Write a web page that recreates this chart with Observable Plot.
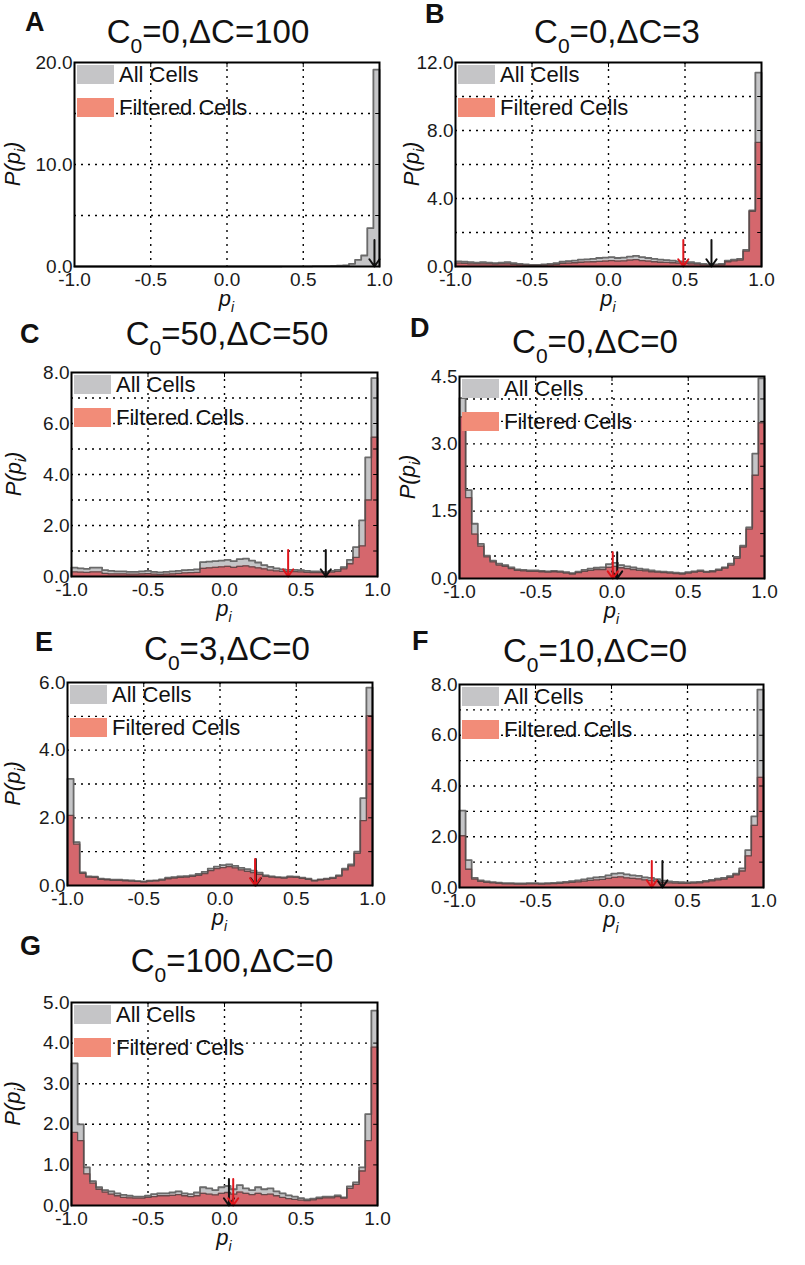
<!DOCTYPE html>
<html>
<head>
<meta charset="utf-8">
<script src="https://cdn.jsdelivr.net/npm/d3@7"></script>
<script src="https://cdn.jsdelivr.net/npm/@observablehq/plot@0.6"></script>
<style>
  html, body { margin: 0; padding: 0; background: #fff; }
  #root { position: relative; width: 805px; height: 1265px; overflow: hidden; background: #fff; }
  .panel { position: absolute; }
  #overlay { position: absolute; left: 0; top: 0; pointer-events: none; }
</style>
</head>
<body>
<div id="root"></div>
<script>
// ---------------- DATA ----------------
const BIN_LEFT = [-1.00,-0.96,-0.92,-0.88,-0.84,-0.80,-0.76,-0.72,-0.68,-0.64,
                  -0.60,-0.56,-0.52,-0.48,-0.44,-0.40,-0.36,-0.32,-0.28,-0.24,
                  -0.20,-0.16,-0.12,-0.08,-0.04, 0.00, 0.04, 0.08, 0.12, 0.16,
                   0.20, 0.24, 0.28, 0.32, 0.36, 0.40, 0.44, 0.48, 0.52, 0.56,
                   0.60, 0.64, 0.68, 0.72, 0.76, 0.80, 0.84, 0.88, 0.92, 0.96];
const X_TICKS = [-1, -0.5, 0, 0.5, 1];
const X_GRID = [-0.5, 0, 0.5];

const panelLetters = ["A", "B", "C", "D", "E", "F", "G"];
const panelC0 = ["0", "0", "50", "0", "3", "10", "100"];
const panelDC = ["100", "3", "50", "0", "0", "0", "0"];

// Panel A: C0=0, ΔC=100
const allA = [0,0,0,0,0,0,0,0,0,0, 0,0,0,0,0,0,0,0,0,0,
              0,0,0,0,0,0,0,0,0,0, 0,0,0,0,0.01,0.01,0.01,0.02,0.02,0.03,
              0.03,0.04,0.06,0.08,0.12,0.26,0.65,1.08,3.76,19.3];
const filtA = [];
const yTicksA = [0, 10, 20];
const yGridA = [5, 10, 15];

// Panel B: C0=0, ΔC=3
const allB = [0.30,0.28,0.25,0.22,0.25,0.22,0.20,0.22,0.25,0.20,
              0.15,0.12,0.10,0.10,0.12,0.15,0.20,0.28,0.32,0.35,
              0.40,0.42,0.45,0.50,0.52,0.55,0.50,0.52,0.58,0.62,
              0.55,0.50,0.45,0.40,0.38,0.35,0.30,0.28,0.25,0.20,
              0.15,0.12,0.12,0.15,0.35,0.40,0.45,0.98,3.30,11.4];
const filtB = [0.20,0.18,0.16,0.15,0.16,0.15,0.14,0.15,0.16,0.13,
               0.10,0.08,0.07,0.07,0.08,0.10,0.13,0.18,0.20,0.22,
               0.25,0.27,0.28,0.30,0.32,0.35,0.32,0.33,0.38,0.40,
               0.35,0.32,0.28,0.25,0.24,0.22,0.20,0.18,0.16,0.14,
               0.10,0.08,0.08,0.10,0.28,0.33,0.38,0.90,3.25,7.30];
const yTicksB = [0, 4, 8, 12];
const yGridB = [2, 4, 6, 8, 10];

// Panel C: C0=50, ΔC=50
const allC = [0.35,0.32,0.30,0.35,0.35,0.25,0.22,0.20,0.20,0.18,
              0.18,0.20,0.22,0.18,0.16,0.18,0.20,0.22,0.25,0.26,
              0.28,0.56,0.58,0.60,0.62,0.65,0.60,0.68,0.70,0.62,
              0.55,0.45,0.38,0.32,0.28,0.26,0.26,0.25,0.22,0.20,
              0.20,0.18,0.22,0.26,0.37,0.65,1.15,2.20,4.67,7.78];
const filtC = [0.18,0.17,0.16,0.18,0.18,0.12,0.10,0.10,0.10,0.09,
               0.09,0.10,0.11,0.09,0.08,0.09,0.10,0.12,0.14,0.15,
               0.16,0.32,0.34,0.36,0.38,0.40,0.36,0.40,0.42,0.38,
               0.34,0.30,0.25,0.22,0.20,0.19,0.19,0.18,0.16,0.15,
               0.15,0.14,0.17,0.20,0.30,0.50,0.75,1.20,3.00,5.46];
const yTicksC = [0, 2, 4, 6, 8];
const yGridC = [1, 2, 3, 4, 5, 6, 7];

// Panel D: C0=0, ΔC=0
const allD = [4.02,1.97,1.22,0.77,0.51,0.40,0.33,0.30,0.25,0.20,
              0.19,0.18,0.18,0.17,0.16,0.17,0.16,0.14,0.12,0.15,
              0.19,0.22,0.24,0.25,0.32,0.35,0.30,0.27,0.25,0.22,
              0.20,0.18,0.16,0.15,0.14,0.13,0.12,0.14,0.16,0.18,
              0.15,0.17,0.20,0.25,0.33,0.48,0.73,1.14,2.78,4.46];
const filtD = [3.60,1.80,0.99,0.72,0.48,0.37,0.30,0.27,0.22,0.18,
               0.17,0.16,0.16,0.15,0.14,0.15,0.14,0.12,0.10,0.13,
               0.16,0.18,0.20,0.20,0.25,0.27,0.24,0.22,0.20,0.18,
               0.17,0.15,0.14,0.13,0.12,0.11,0.10,0.12,0.14,0.16,
               0.14,0.15,0.18,0.23,0.30,0.45,0.70,1.10,2.30,3.47];
const yTicksD = [0, 1.5, 3, 4.5];
const yGridD = [0.5, 1, 1.5, 2, 2.5, 3, 3.5, 4];

// Panel E: C0=3, ΔC=0
const allE = [3.15,1.28,0.39,0.27,0.26,0.20,0.19,0.17,0.17,0.16,
              0.15,0.13,0.12,0.14,0.15,0.18,0.23,0.25,0.27,0.28,
              0.30,0.34,0.40,0.50,0.56,0.60,0.62,0.58,0.52,0.48,
              0.44,0.38,0.30,0.27,0.25,0.24,0.27,0.26,0.23,0.20,
              0.15,0.18,0.20,0.23,0.30,0.50,0.62,1.00,2.58,5.85];
const filtE = [2.07,1.22,0.36,0.25,0.24,0.18,0.17,0.15,0.15,0.14,
               0.13,0.12,0.11,0.13,0.14,0.16,0.20,0.22,0.24,0.25,
               0.27,0.30,0.35,0.44,0.50,0.53,0.56,0.52,0.46,0.42,
               0.38,0.33,0.27,0.25,0.23,0.22,0.25,0.24,0.21,0.18,
               0.14,0.17,0.19,0.21,0.28,0.46,0.58,0.95,1.92,5.02];
const yTicksE = [0, 2, 4, 6];
const yGridE = [1, 2, 3, 4, 5];

// Panel F: C0=10, ΔC=0
const allF = [3.03,1.08,0.38,0.28,0.24,0.21,0.19,0.17,0.17,0.16,
              0.16,0.17,0.17,0.16,0.17,0.18,0.20,0.22,0.25,0.28,
              0.32,0.36,0.40,0.42,0.48,0.55,0.57,0.52,0.48,0.46,
              0.40,0.38,0.33,0.27,0.24,0.22,0.21,0.20,0.21,0.22,
              0.26,0.30,0.35,0.38,0.45,0.55,0.75,1.47,2.80,7.80];
const filtF = [2.04,0.72,0.33,0.24,0.20,0.18,0.16,0.14,0.14,0.13,
               0.13,0.14,0.14,0.13,0.14,0.15,0.16,0.18,0.20,0.22,
               0.25,0.28,0.30,0.32,0.36,0.40,0.42,0.38,0.36,0.34,
               0.30,0.28,0.24,0.20,0.18,0.17,0.16,0.16,0.17,0.18,
               0.22,0.26,0.30,0.33,0.40,0.50,0.65,1.25,2.45,4.34];
const yTicksF = [0, 2, 4, 6, 8];
const yGridF = [1, 2, 3, 4, 5, 6, 7];

// Panel G: C0=100, ΔC=0
const allG = [3.50,2.00,0.94,0.60,0.45,0.38,0.35,0.30,0.26,0.24,
              0.22,0.22,0.24,0.28,0.30,0.30,0.32,0.35,0.30,0.28,
              0.32,0.45,0.42,0.38,0.45,0.48,0.40,0.50,0.42,0.38,
              0.45,0.40,0.42,0.35,0.30,0.25,0.22,0.18,0.15,0.17,
              0.20,0.22,0.22,0.25,0.20,0.47,0.57,0.94,2.25,4.80];
const filtG = [1.80,1.60,0.78,0.55,0.40,0.33,0.28,0.24,0.20,0.19,
               0.18,0.18,0.20,0.22,0.24,0.24,0.25,0.27,0.24,0.22,
               0.24,0.30,0.28,0.26,0.30,0.32,0.28,0.33,0.30,0.27,
               0.30,0.27,0.28,0.24,0.20,0.17,0.15,0.13,0.12,0.14,
               0.17,0.19,0.19,0.22,0.18,0.42,0.52,0.85,1.60,3.90];
const yTicksG = [0, 1, 2, 3, 4, 5];
const yGridG = [1, 2, 3, 4];

// mean markers (arrows): all cells (black), filtered cells (red)
const meanAll  = [0.967, 0.673, 0.662, 0.034, 0.235, 0.335, 0.029];
const meanFilt = [null,  0.489, 0.416, 0.005, 0.230, 0.265, 0.057];

// ---------------- LAYOUT ----------------
const FONT = '"Liberation Sans", Arial, Helvetica, sans-serif';
const ML = 70, MR = 14, MT = 12, MB = 30;
// frame left, top, width, height for each panel
const frames = [
  [74, 62, 305, 204], [455, 62, 306, 204],
  [71, 372, 306, 204], [459, 376, 305, 202],
  [67, 682, 305, 203], [459, 684, 304, 203],
  [71, 1002, 306, 203]
];
const letterPos = [[25, 31], [425, 23], [20, 343], [410, 337], [35, 651], [412, 650], [20, 955]];
const titlePos = [[208, 43], [617, 43], [227, 345], [595, 353], [227, 660], [595, 662], [232, 972]];
const yLabelOffset = [62, 44, 58, 52, 55, null, 59];

const panels = [
  {all: allA, filt: filtA, yTicks: yTicksA, yGrid: yGridA},
  {all: allB, filt: filtB, yTicks: yTicksB, yGrid: yGridB},
  {all: allC, filt: filtC, yTicks: yTicksC, yGrid: yGridC},
  {all: allD, filt: filtD, yTicks: yTicksD, yGrid: yGridD},
  {all: allE, filt: filtE, yTicks: yTicksE, yGrid: yGridE},
  {all: allF, filt: filtF, yTicks: yTicksF, yGrid: yGridF},
  {all: allG, filt: filtG, yTicks: yTicksG, yGrid: yGridG}
];

const GRAY_FILL = "#c5c5c7";
const RED_FILL = "#d5676d";
const SALMON = "#f28c78";

// histogram step outline: left edge, each bin's left edge, right edge
function stepsOf(vals) {
  const pts = [{x: -1, v: 0}];
  vals.forEach((v, i) => pts.push({x: BIN_LEFT[i], v}));
  pts.push({x: 1, v: vals[vals.length - 1]});
  pts.push({x: 1, v: 0});
  return pts;
}

const root = document.getElementById("root");

panels.forEach((p, k) => {
  const [fl, ft, fw, fh] = frames[k];
  const ymax = p.yTicks[p.yTicks.length - 1];
  const dots = {stroke: "#000", strokeWidth: 1.4, strokeDasharray: "2,5"};
  const marks = [
    Plot.ruleY(p.yGrid, dots),
    Plot.ruleX(X_GRID, dots),
    Plot.areaY(stepsOf(p.all), {x: "x", y: "v", curve: "step-after", fill: GRAY_FILL})
  ];
  if (p.filt.length) {
    marks.push(Plot.areaY(stepsOf(p.filt), {x: "x", y: "v", curve: "step-after", fill: RED_FILL}));
  }
  marks.push(Plot.lineY(stepsOf(p.all), {x: "x", y: "v", curve: "step-after", stroke: "#6a6a6a", strokeWidth: 1.8}));
  if (p.filt.length) {
    marks.push(Plot.lineY(stepsOf(p.filt), {x: "x", y: "v", curve: "step-after", stroke: "#5a4646", strokeWidth: 1.3, strokeOpacity: 0.9}));
  }
  // small inward ticks on right and top edges
  marks.push(Plot.ruleY(p.yGrid, {x1: 0.975, x2: 1, stroke: "#000", strokeWidth: 1}));
  marks.push(Plot.ruleX(X_GRID, {y1: ymax * 0.975, y2: ymax, stroke: "#000", strokeWidth: 1}));
  // mean arrows
  const arrowOpts = {x1: "x", x2: "x", y1: () => ymax * 0.13, y2: () => 0, strokeWidth: 2, headLength: 9, headAngle: 70};
  marks.push(Plot.arrow([{x: meanAll[k]}], {...arrowOpts, stroke: "#111"}));
  if (meanFilt[k] !== null) marks.push(Plot.arrow([{x: meanFilt[k]}], {...arrowOpts, stroke: "#e0151b"}));
  marks.push(Plot.frame({stroke: "#000", strokeWidth: 2}));

  const chart = Plot.plot({
    width: ML + fw + MR,
    height: MT + fh + MB,
    marginLeft: ML, marginRight: MR, marginTop: MT, marginBottom: MB,
    style: {fontFamily: FONT, fontSize: "19px", color: "#1a1a1a", background: "transparent", overflow: "visible"},
    x: {domain: [-1, 1], ticks: X_TICKS, tickFormat: d => d.toFixed(1), tickSize: 0, tickPadding: 6, label: null},
    y: {domain: [0, ymax], ticks: p.yTicks, tickFormat: d => d.toFixed(1), tickSize: 0, tickPadding: 2, label: null},
    marks
  });
  const wrap = document.createElement("div");
  wrap.className = "panel";
  wrap.style.left = (fl - ML) + "px";
  wrap.style.top = (ft - MT) + "px";
  wrap.appendChild(chart);
  root.appendChild(wrap);
});

// ---------------- TEXT OVERLAY ----------------
const svg = d3.select(root).append("svg")
  .attr("id", "overlay").attr("width", 805).attr("height", 1265)
  .style("font-family", FONT).style("fill", "#111");

panels.forEach((p, k) => {
  const [fl, ft, fw, fh] = frames[k];
  // panel letter
  svg.append("text").attr("x", letterPos[k][0]).attr("y", letterPos[k][1])
    .attr("font-size", 27).attr("font-weight", "bold").text(panelLetters[k]);
  // title C0=..,ΔC=..
  const t = svg.append("text").attr("x", titlePos[k][0]).attr("y", titlePos[k][1])
    .attr("font-size", 33).attr("text-anchor", "middle");
  t.append("tspan").text("C");
  t.append("tspan").attr("dy", 10).attr("font-size", 21).text("0");
  t.append("tspan").attr("dy", -10).text("=" + panelC0[k] + ",ΔC=" + panelDC[k]);
  // legend
  svg.append("rect").attr("x", fl + 3).attr("y", ft + 3).attr("width", 37).attr("height", 19).attr("fill", GRAY_FILL);
  svg.append("text").attr("x", fl + 45).attr("y", ft + 20).attr("font-size", 22).text("All Cells");
  svg.append("rect").attr("x", fl + 3).attr("y", ft + 36).attr("width", 37).attr("height", 19).attr("fill", SALMON);
  svg.append("text").attr("x", fl + 45).attr("y", ft + 53).attr("font-size", 22).text("Filtered Cells");
  // x label p_i
  const xl = svg.append("text").attr("x", fl + fw / 2).attr("y", ft + fh + 40)
    .attr("font-size", 22).attr("font-style", "italic").attr("text-anchor", "middle");
  xl.append("tspan").text("p");
  xl.append("tspan").attr("dy", 6).attr("font-size", 14).text("i");
  // y label P(p_i)
  if (yLabelOffset[k] !== null) {
    const cx = fl - yLabelOffset[k], cy = ft + fh / 2;
    const yl = svg.append("text").attr("transform", `translate(${cx},${cy}) rotate(-90)`)
      .attr("font-size", 22).attr("font-style", "italic").attr("text-anchor", "middle").attr("dy", "0.35em");
    yl.append("tspan").text("P(p");
    yl.append("tspan").attr("dy", 5).attr("font-size", 14).text("i");
    yl.append("tspan").attr("dy", -5).text(")");
  }
});
</script>
</body>
</html>
